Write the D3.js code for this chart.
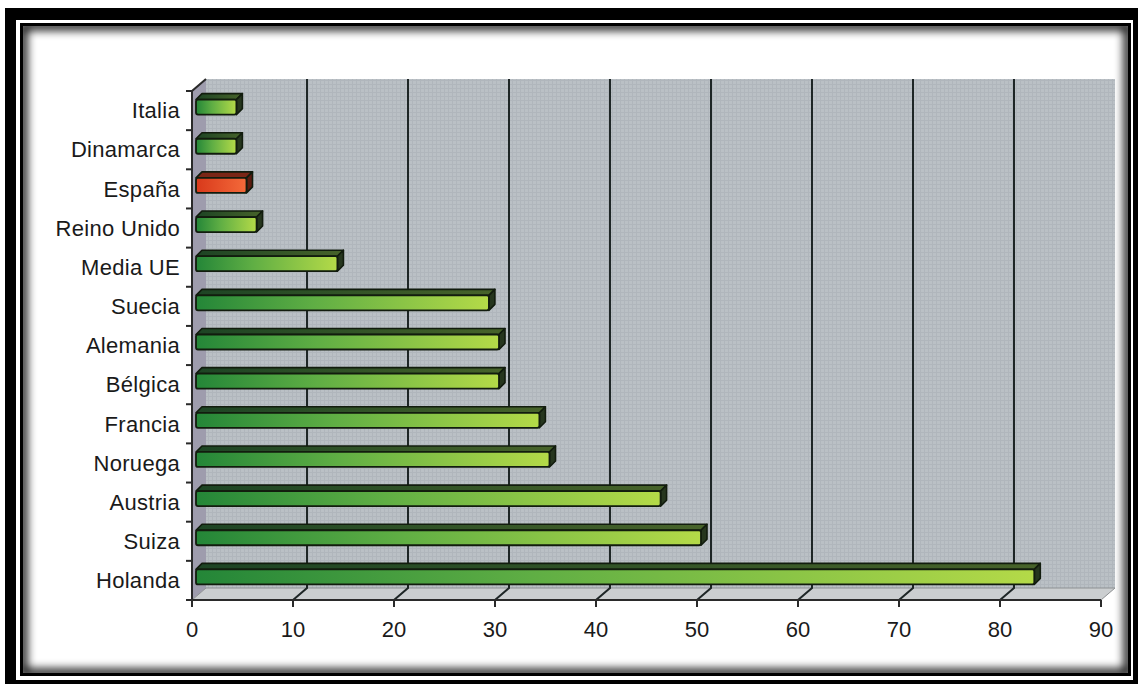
<!DOCTYPE html>
<html>
<head>
<meta charset="utf-8">
<script src="https://cdn.jsdelivr.net/npm/d3@7"></script>
<style>
  body { margin: 0; background: #fff; }
  svg { display: block; }
  text { font-family: "Liberation Sans", Arial, sans-serif; fill: #1a1a1a; }
</style>
</head>
<body>
<div id="chart"></div>
<script>
// data
var categories = ["Italia", "Dinamarca", "España", "Reino Unido", "Media UE", "Suecia",
                  "Alemania", "Bélgica", "Francia", "Noruega", "Austria", "Suiza", "Holanda"];
var values = [4, 4, 5, 6, 14, 29, 30, 30, 34, 35, 46, 50, 83];
var xTicks = [0, 10, 20, 30, 40, 50, 60, 70, 80, 90];
var highlight = "España";

var W = 1143, H = 684;
var depthX = 14, depthY = -12;   // 3d wall offset
var barD = 6;                    // bar depth

var svg = d3.select("#chart").append("svg")
    .attr("width", W).attr("height", H);

var defs = svg.append("defs");

// frame shadow
defs.append("clipPath").attr("id", "panelClip")
    .append("rect").attr("x", 23).attr("y", 26).attr("width", 1105).attr("height", 647);
defs.append("filter").attr("id", "blur").attr("x", "-10%").attr("y", "-10%")
    .attr("width", "120%").attr("height", "120%")
    .append("feGaussianBlur").attr("stdDeviation", 5);

// wall texture
var pat = defs.append("pattern").attr("id", "wallTex")
    .attr("patternUnits", "userSpaceOnUse").attr("width", 4).attr("height", 4);
pat.append("rect").attr("width", 4).attr("height", 4).attr("fill", "#bac0c5");
pat.append("path").attr("d", "M0,0.5H4M0.5,0V4").attr("stroke", "#b0b6bc").attr("stroke-width", 1);

var gGreen = defs.append("linearGradient").attr("id", "gGreen");
gGreen.append("stop").attr("offset", "0%").attr("stop-color", "#248638");
gGreen.append("stop").attr("offset", "40%").attr("stop-color", "#5fae44");
gGreen.append("stop").attr("offset", "100%").attr("stop-color", "#b4da48");
var gTop = defs.append("linearGradient").attr("id", "gTop");
gTop.append("stop").attr("offset", "0%").attr("stop-color", "#1d4424");
gTop.append("stop").attr("offset", "100%").attr("stop-color", "#47632a");
var gRed = defs.append("linearGradient").attr("id", "gRed");
gRed.append("stop").attr("offset", "0%").attr("stop-color", "#d8391b");
gRed.append("stop").attr("offset", "100%").attr("stop-color", "#f46a3a");

// frame
svg.append("rect").attr("x", 5).attr("y", 8).attr("width", 1133).attr("height", 676).attr("fill", "#000");
svg.append("rect").attr("x", 16).attr("y", 20).attr("width", 1117).attr("height", 660).attr("fill", "#fff");
svg.append("rect").attr("x", 20).attr("y", 23).attr("width", 1111).attr("height", 653).attr("fill", "#000");
svg.append("rect").attr("x", 23).attr("y", 26).attr("width", 1105).attr("height", 647).attr("fill", "#fff");
svg.append("g").attr("clip-path", "url(#panelClip)")
    .append("rect").attr("x", 23).attr("y", 26).attr("width", 1105).attr("height", 647)
    .attr("fill", "none").attr("stroke", "#000").attr("stroke-width", 8)
    .attr("filter", "url(#blur)");

var x = d3.scaleLinear().domain([0, 90]).range([192, 1101]);
var y = d3.scaleBand().domain(categories).range([91, 600]);
var bw = y.bandwidth();
var yTop = y.range()[0], yBot = y.range()[1];

// back wall
svg.append("rect")
    .attr("x", x(0) + depthX).attr("y", yTop + depthY)
    .attr("width", x(90) - x(0)).attr("height", yBot - yTop)
    .attr("fill", "url(#wallTex)");
// left wall
svg.append("path")
    .attr("d", "M" + x(0) + "," + yTop + "L" + (x(0) + depthX) + "," + (yTop + depthY) +
               "L" + (x(0) + depthX) + "," + (yBot + depthY) + "L" + x(0) + "," + yBot + "Z")
    .attr("fill", "#9e9cad");
// floor
svg.append("path")
    .attr("d", "M" + x(0) + "," + yBot + "L" + (x(0) + depthX) + "," + (yBot + depthY) +
               "L" + (x(90) + depthX) + "," + (yBot + depthY) + "L" + x(90) + "," + yBot + "Z")
    .attr("fill", "#cbced0").attr("stroke", "#8d9092").attr("stroke-width", 1);

// gridlines on wall and floor
svg.append("g").selectAll("path")
    .data(xTicks.filter(function(d){ return d > 0 && d < 90; }))
    .enter().append("path")
    .attr("d", function(d){
        return "M" + (x(d) + depthX) + "," + (yTop + depthY) +
               "L" + (x(d) + depthX) + "," + (yBot + depthY) +
               "L" + x(d) + "," + yBot;
    })
    .attr("fill", "none").attr("stroke", "#1e2626").attr("stroke-width", 2);

// bars
var bars = svg.append("g").selectAll("g")
    .data(categories)
    .enter().append("g");

bars.each(function(c, i){
    var g = d3.select(this);
    var x0 = x(0) + 4, x1 = x(values[i]) + 4;
    var yc = y(c) + bw / 2;
    var yt = yc - 11, yb = yc + 4;
    var red = c === highlight;
    // top face
    g.append("path")
        .attr("d", "M" + x0 + "," + yt + "L" + (x0 + barD) + "," + (yt - barD) +
                   "L" + (x1 + barD) + "," + (yt - barD) + "L" + x1 + "," + yt + "Z")
        .attr("fill", red ? "#7a2616" : "url(#gTop)")
        .attr("stroke", "#121c0e").attr("stroke-width", 1.6).attr("stroke-linejoin", "round");
    // end cap
    g.append("path")
        .attr("d", "M" + x1 + "," + yt + "L" + (x1 + barD) + "," + (yt - barD) +
                   "L" + (x1 + barD) + "," + (yb - barD) + "L" + x1 + "," + yb + "Z")
        .attr("fill", red ? "#5c1c10" : "#26361e")
        .attr("stroke", "#121c0e").attr("stroke-width", 1.6).attr("stroke-linejoin", "round");
    // front face
    g.append("rect")
        .attr("x", x0).attr("y", yt).attr("width", x1 - x0).attr("height", yb - yt)
        .attr("rx", 2)
        .attr("fill", red ? "url(#gRed)" : "url(#gGreen)")
        .attr("stroke", "#121c0e").attr("stroke-width", 1.8);
});

// axes
var ax = svg.append("g").attr("stroke", "#2a2a2a").attr("stroke-width", 2).attr("fill", "none");
ax.append("path").attr("d", "M" + x(0) + "," + yBot + "H" + x(90));
ax.append("path").attr("d", "M" + x(0) + "," + yBot + "V" + yTop +
                            "L" + (x(0) + depthX) + "," + (yTop + depthY));
ax.selectAll(".xt").data(xTicks).enter().append("path")
    .attr("d", function(d){ return "M" + x(d) + "," + yBot + "v7"; });
var bounds = categories.map(function(c){ return y(c); }).concat([yBot]);
ax.selectAll(".yt").data(bounds).enter().append("path")
    .attr("d", function(d){ return "M" + x(0) + "," + d + "h-6"; });

// tick labels
svg.append("g").selectAll("text")
    .data(xTicks).enter().append("text")
    .attr("x", function(d){ return x(d); })
    .attr("y", 637)
    .attr("text-anchor", "middle")
    .style("font-size", "22px")
    .text(function(d){ return d; });

// category labels
svg.append("g").selectAll("text")
    .data(categories).enter().append("text")
    .attr("x", 180)
    .attr("y", function(d){ return y(d) + bw / 2; })
    .attr("dy", "0.35em")
    .attr("text-anchor", "end")
    .style("font-size", "22px")
    .style("letter-spacing", "0.3px")
    .text(function(d){ return d; });
</script>
</body>
</html>
